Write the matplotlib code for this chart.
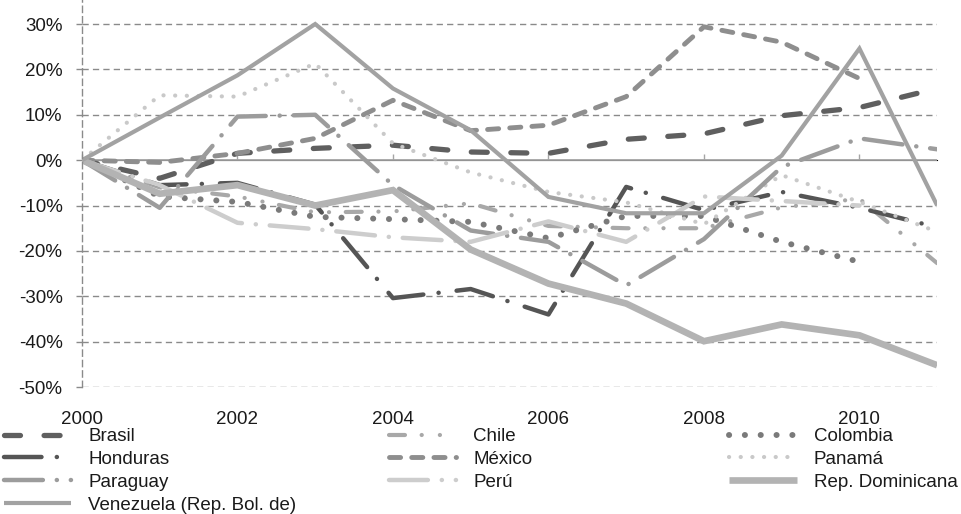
import numpy as np
import matplotlib
matplotlib.use("Agg")
import matplotlib.pyplot as plt
from matplotlib.ticker import FuncFormatter, NullFormatter

nan = np.nan

years = list(range(2000, 2012))
y_ticks = list(range(-50, 40, 10))

brasil = [0, -4.0, 1.5, 2.6, 3.3, 1.8, 1.5, 4.6, 5.8, 9.8, 11.6, 15.8]
chile = [0, -6.0, -8.0, -11.5, -11.3, -9.5, -14.5, -15.0, -15.0, -10.4, -8.5, -22.7]
colombia = [0, -8.0, -9.2, -12.5, -13.0, -13.6, -17.2, -12.3, -12.3, -18.0, -22.4, nan]
honduras = [0, -5.5, -5.0, -9.8, -30.4, -28.4, -34.0, -5.9, -11.0, -7.0, -10.5, -14.8]
mexico = [0, -0.5, 1.5, 4.8, 13.2, 6.5, 7.7, 14.0, 29.4, 26.0, 18.0, nan]
panama = [0, 14.3, 14.0, 21.3, 3.7, -2.7, -7.0, -9.3, -14.1, -3.3, -9.2, -15.8]
paraguay = [0, -10.5, 9.6, 10.0, -5.5, -15.5, -18.0, -27.6, -17.4, -1.5, 4.8, 2.4]
peru = [0, -5.5, -13.8, -15.2, -17.0, -18.0, -13.5, -18.0, -8.0, -9.0, -10.0, nan]
rep_dom = [0, -7.4, -5.5, -10.0, -6.6, -19.7, -27.2, -31.6, -39.9, -36.2, -38.6, -45.2]
venezuela = [0, 9.4, 18.7, 30.0, 15.8, 6.6, -8.1, -11.7, -11.7, 1.0, 24.6, -10.0]

# name, values, color, width (pt), dash pattern (pt)
series = [
    ("Brasil", brasil, "#5f5f5f", 3.8, (11.5, 17)),
    ("Chile", chile, "#a8a8a8", 3.0, (11.5, 12, 0.1, 13, 0.1, 12)),
    ("Colombia", colombia, "#7a7a7a", 4.3, (0.1, 11.3)),
    ("Honduras", honduras, "#555555", 3.2, (27, 11, 0.1, 13)),
    ("México", mexico, "#8e8e8e", 3.5, (8, 8)),
    ("Panamá", panama, "#c9c9c9", 3.0, (0.1, 8.3)),
    ("Paraguay", paraguay, "#9c9c9c", 3.2, (28, 10, 0.1, 10)),
    ("Perú", peru, "#cdcdcd", 3.2, (28, 10, 0.1, 10)),
    ("Rep. Dominicana", rep_dom, "#b3b3b3", 4.8, None),
    ("Venezuela (Rep. Bol. de)", venezuela, "#a2a2a2", 3.0, None),
]

plt.rcParams["font.family"] = ["Liberation Sans", "DejaVu Sans"]
plt.rcParams["lines.scale_dashes"] = False

fig = plt.figure(figsize=(9.62, 5.14), dpi=100)
ax = fig.add_axes([0.0852, 0.247, 0.889, 0.7945])

handles = {}
for name, vals, color, lw, dash in series:
    if dash is None:
        line, = ax.plot(years, vals, color=color, lw=lw, solid_capstyle="butt",
                        solid_joinstyle="miter", label=name)
    else:
        line, = ax.plot(years, vals, color=color, lw=lw, dashes=dash,
                        dash_capstyle="round", dash_joinstyle="round", label=name)
    handles[name] = line

ax.set_xlim(2000, 2011)
ax.set_ylim(-50, 40)
ax.set_yticks(y_ticks)
ax.yaxis.set_major_formatter(FuncFormatter(lambda v, p: f"{v:.0f}%"))
ax.set_xticks(years[::2])

grid_col = "#8a8a8a"
for v in y_ticks:
    if v != 0:
        ax.axhline(v, color=grid_col, lw=1.0, dashes=(4.5, 3), zorder=0)
ax.axhline(0, color="#a5a5a5", lw=1.3, zorder=0.5)

for s in ["top", "right", "bottom"]:
    ax.spines[s].set_visible(False)
ax.spines["left"].set_color(grid_col)
ax.spines["left"].set_linewidth(1.0)
ax.spines["left"].set_linestyle((0, (4.5, 3)))

ax.tick_params(axis="y", length=4, width=1, color=grid_col, pad=10, labelsize=13.5, labelcolor="#1a1a1a")
ax.tick_params(axis="x", length=0, pad=17, labelsize=13.5, labelcolor="#1a1a1a")

# tick marks on the zero line
zero_frac = (0 - ax.get_ylim()[0]) / (ax.get_ylim()[1] - ax.get_ylim()[0])
sec = ax.secondary_xaxis(zero_frac)
sec.set_xticks(years[::2])
sec.xaxis.set_major_formatter(NullFormatter())
sec.tick_params(axis="x", length=4, width=1, color="#a5a5a5")
sec.spines["bottom"].set_visible(False)

columns = [
    (["Brasil", "Honduras", "Paraguay", "Venezuela (Rep. Bol. de)"], 0.004),
    (["Chile", "México", "Perú"], 0.404),
    (["Colombia", "Panamá", "Rep. Dominicana"], 0.758),
]
for names, x in columns:
    leg = fig.legend([handles[n] for n in names], names, loc="upper left",
                     bbox_to_anchor=(x, 0.167), frameon=False, fontsize=13.5,
                     handlelength=3.6, handletextpad=0.9, labelspacing=0.3,
                     borderpad=0, borderaxespad=0)
    for t in leg.get_texts():
        t.set_color("#1a1a1a")

fig.savefig("out.png", dpi=100)
